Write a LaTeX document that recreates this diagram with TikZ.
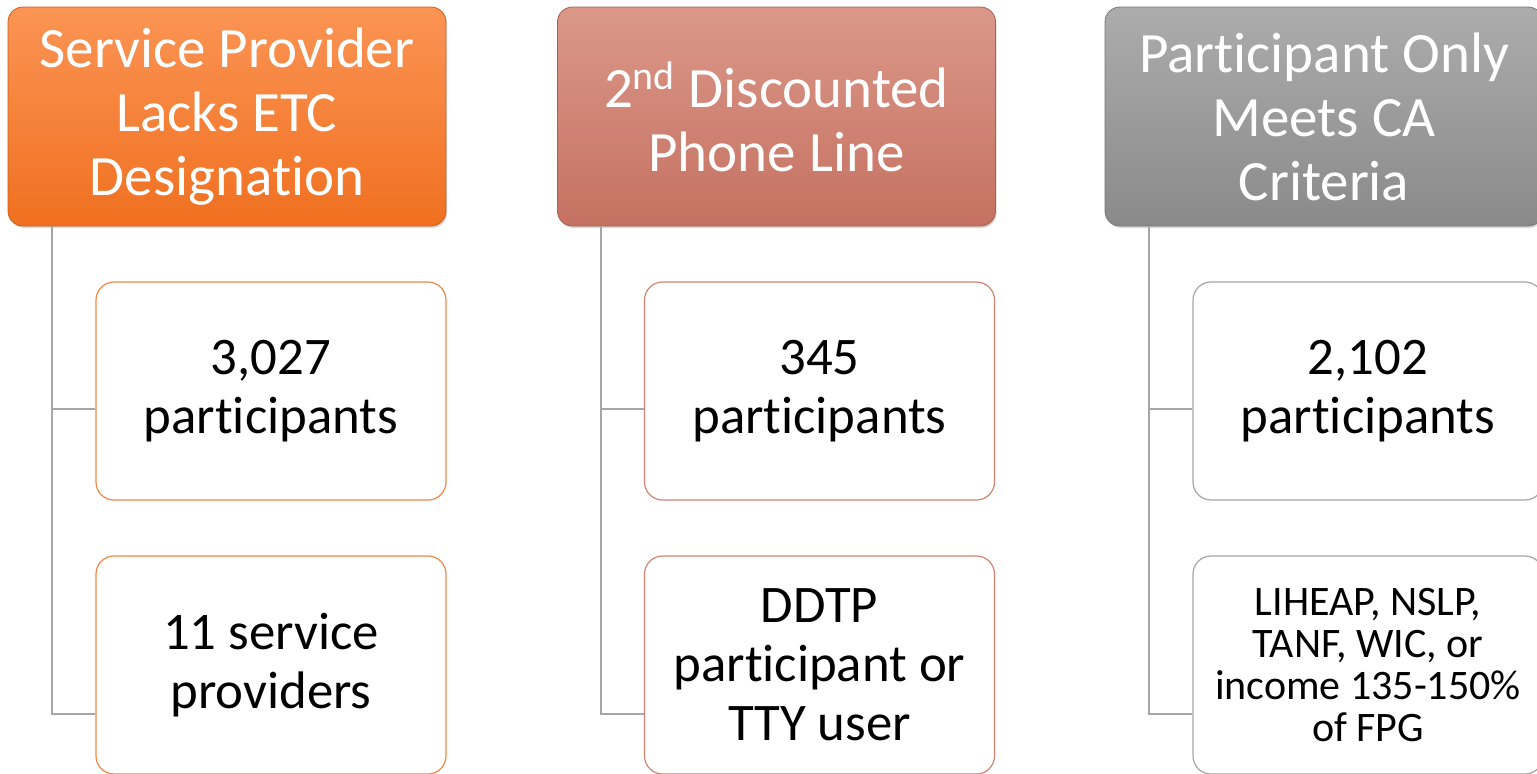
\documentclass[tikz,border=0pt]{standalone}
\usepackage{fontspec}
\setmainfont[RawFeature={-liga;-calt;-clig;-dlig}]{Carlito}
\usetikzlibrary{positioning,shadows}

\definecolor{orngtop}{RGB}{251,148,84}
\definecolor{orngbot}{RGB}{240,112,32}
\definecolor{orngline}{RGB}{240,135,70}
\definecolor{salmtop}{RGB}{219,152,137}
\definecolor{salmbot}{RGB}{197,113,97}
\definecolor{salmline}{RGB}{214,130,114}
\definecolor{greytop}{RGB}{172,172,172}
\definecolor{greybot}{RGB}{138,138,138}
\definecolor{greyline}{RGB}{165,165,165}
\definecolor{linkgray}{RGB}{166,166,166}

\begin{document}
\begin{tikzpicture}[x=0.5pt, y=-0.5pt,
   head/.style={rounded corners=7.5pt, minimum width=219pt, minimum height=109.5pt,
                inner sep=0pt, text=white, align=center,
                font=\fontsize{28.5}{32}\selectfont,
                drop shadow={opacity=0.3, shadow xshift=0.6pt, shadow yshift=-1pt}},
   leaf/.style={rounded corners=9pt, minimum width=175pt, minimum height=109pt,
                inner sep=0pt, fill=white, line width=0.6pt, align=center,
                font=\fontsize{26.4}{29.5}\selectfont},
   link/.style={draw=linkgray, line width=1.4pt}]
   \useasboundingbox (0,0) rectangle (1537,773);

   % headers
   \node[head, top color=orngtop, bottom color=orngbot, draw=orngbot!85!black] (hdA) at (227,116.5)
        {Service Provider\\Lacks ETC\\Designation};
   \node[head, top color=salmtop, bottom color=salmbot, draw=salmbot!85!black] (hdB) at (776.5,116.5)
        {2\textsuperscript{nd} Discounted\\Phone Line};
   \node[head, top color=greytop, bottom color=greybot, draw=greybot!85!black] (hdC) at (1324,116.5)
        {Participant Only\\Meets CA\\Criteria};

   % children
   \node[leaf, draw=orngline] (cntA) at (271,391) {3,027\\participants};
   \node[leaf, draw=orngline] (subA) at (271,665) {11 service\\providers};
   \node[leaf, draw=salmline] (cntB) at (819.5,391) {345\\participants};
   \node[leaf, draw=salmline] (subB) at (819.5,665) {DDTP\\participant or\\TTY user};
   \node[leaf, draw=greyline] (cntC) at (1368,391) {2,102\\participants};
   \node[leaf, draw=greyline, font=\fontsize{21}{21}\selectfont] (subC) at (1368,665)
        {LIHEAP, NSLP,\\TANF, WIC, or\\income 135-150\%\\of FPG};

   % links
   \coordinate (jA1) at (52,409);   \coordinate (jA2) at (52,714);
   \coordinate (jB1) at (601,409);  \coordinate (jB2) at (601,714);
   \coordinate (jC1) at (1149,409); \coordinate (jC2) at (1149,714);

   \draw[link] (hdA.south -| jA1) -- (jA2) -- (subA.west |- jA2);
   \draw[link] (jA1) -- (cntA.west |- jA1);
   \draw[link] (hdB.south -| jB1) -- (jB2) -- (subB.west |- jB2);
   \draw[link] (jB1) -- (cntB.west |- jB1);
   \draw[link] (hdC.south -| jC1) -- (jC2) -- (subC.west |- jC2);
   \draw[link] (jC1) -- (cntC.west |- jC1);
\end{tikzpicture}
\end{document}
